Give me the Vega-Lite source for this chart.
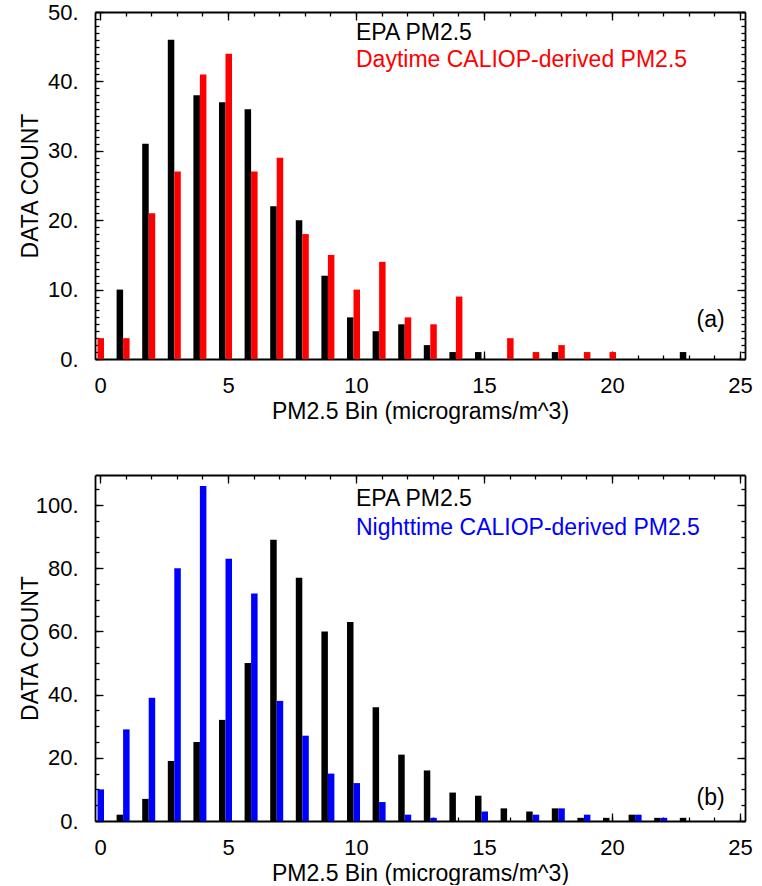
{
  "$schema": "https://vega.github.io/schema/vega-lite/v6.json",
  "background": "white",
  "padding": {"left": 19, "top": 1, "right": 5, "bottom": 0},
  "spacing": 51,
  "config": {
    "view": {"stroke": null},
    "font": "Liberation Sans",
    "axis": {
      "grid": false,
      "domainColor": "black",
      "domainWidth": 1.8,
      "tickColor": "black",
      "tickWidth": 1.3,
      "labelColor": "black",
      "titleColor": "black",
      "labelFont": "Liberation Sans",
      "titleFont": "Liberation Sans",
      "labelFontSize": 22,
      "titleFontSize": 23,
      "titleFontWeight": "normal",
      "labelFlush": false,
      "labelOverlap": false
    }
  },
  "datasets": {
    "day": [
      {"bin": 0, "epa": 0, "caliop": 3},
      {"bin": 1, "epa": 10, "caliop": 3},
      {"bin": 2, "epa": 31, "caliop": 21},
      {"bin": 3, "epa": 46, "caliop": 27},
      {"bin": 4, "epa": 38, "caliop": 41},
      {"bin": 5, "epa": 37, "caliop": 44},
      {"bin": 6, "epa": 36, "caliop": 27},
      {"bin": 7, "epa": 22, "caliop": 29},
      {"bin": 8, "epa": 20, "caliop": 18},
      {"bin": 9, "epa": 12, "caliop": 15},
      {"bin": 10, "epa": 6, "caliop": 10},
      {"bin": 11, "epa": 4, "caliop": 14},
      {"bin": 12, "epa": 5, "caliop": 6},
      {"bin": 13, "epa": 2, "caliop": 5},
      {"bin": 14, "epa": 1, "caliop": 9},
      {"bin": 15, "epa": 1, "caliop": 0},
      {"bin": 16, "epa": 0, "caliop": 3},
      {"bin": 17, "epa": 0, "caliop": 1},
      {"bin": 18, "epa": 1, "caliop": 2},
      {"bin": 19, "epa": 0, "caliop": 1},
      {"bin": 20, "epa": 0, "caliop": 1},
      {"bin": 21, "epa": 0, "caliop": 0},
      {"bin": 22, "epa": 0, "caliop": 0},
      {"bin": 23, "epa": 1, "caliop": 0}
    ],
    "night": [
      {"bin": 0, "epa": 0, "caliop": 10},
      {"bin": 1, "epa": 2, "caliop": 29},
      {"bin": 2, "epa": 7, "caliop": 39},
      {"bin": 3, "epa": 19, "caliop": 80},
      {"bin": 4, "epa": 25, "caliop": 106},
      {"bin": 5, "epa": 32, "caliop": 83},
      {"bin": 6, "epa": 50, "caliop": 72},
      {"bin": 7, "epa": 89, "caliop": 38},
      {"bin": 8, "epa": 77, "caliop": 27},
      {"bin": 9, "epa": 60, "caliop": 15},
      {"bin": 10, "epa": 63, "caliop": 12},
      {"bin": 11, "epa": 36, "caliop": 6},
      {"bin": 12, "epa": 21, "caliop": 2},
      {"bin": 13, "epa": 16, "caliop": 1},
      {"bin": 14, "epa": 9, "caliop": 0},
      {"bin": 15, "epa": 8, "caliop": 3},
      {"bin": 16, "epa": 4, "caliop": 0},
      {"bin": 17, "epa": 3, "caliop": 2},
      {"bin": 18, "epa": 4, "caliop": 4},
      {"bin": 19, "epa": 1, "caliop": 2},
      {"bin": 20, "epa": 1, "caliop": 0},
      {"bin": 21, "epa": 2, "caliop": 2},
      {"bin": 22, "epa": 1, "caliop": 1},
      {"bin": 23, "epa": 1, "caliop": 0}
    ],
    "one": [{}]
  },
  "vconcat": [
    {
      "width": 650,
      "height": 347,
      "data": {"name": "day"},
      "resolve": {"axis": {"x": "independent", "y": "independent"}},
      "layer": [
        {
          "mark": {"type": "bar", "color": "black", "width": 6.5, "xOffset": -5.75, "orient": "vertical", "clip": true},
          "encoding": {
            "x": {"field": "bin", "type": "quantitative", "scale": {"domain": [0, 25], "nice": false, "zero": false},
                  "axis": {"orient": "bottom", "values": [0, 5, 10, 15, 20, 25], "ticks": false, "labelBaseline": "alphabetic", "labelPadding": 33,
                           "title": "PM2.5 Bin (micrograms/m^3)", "titleBaseline": "alphabetic", "titleY": 59}},
            "y": {"field": "epa", "type": "quantitative", "stack": null, "scale": {"domain": [0, 50], "nice": false},
                  "axis": {"orient": "left", "values": [0, 10, 20, 30, 40, 50], "ticks": false, "labelPadding": 17, "labelExpr": "datum.label + '.'",
                           "title": "DATA COUNT", "titleBaseline": "alphabetic", "titleX": -58}}
          }
        },
        {
          "mark": {"type": "bar", "color": "#ff0000", "width": 6.5, "xOffset": 0.75, "orient": "vertical", "clip": true},
          "encoding": {
            "x": {"field": "bin", "type": "quantitative",
                  "axis": {"orient": "bottom", "values": [0, 5, 10, 15, 20, 25], "tickSize": -8, "labels": false, "domain": false, "title": null}},
            "y": {"field": "caliop", "type": "quantitative", "stack": null,
                  "axis": {"orient": "left", "values": [0, 10, 20, 30, 40, 50], "tickSize": -8, "labels": false, "domain": false, "title": null}}
          }
        },
        {
          "data": {"name": "one"},
          "mark": {"type": "text", "align": "left", "baseline": "alphabetic", "fontSize": 23, "color": "black", "font": "Liberation Sans"},
          "encoding": {
            "x": {"datum": 10, "type": "quantitative",
                  "axis": {"orient": "bottom", "values": [0,1,2,3,4,5,6,7,8,9,10,11,12,13,14,15,16,17,18,19,20,21,22,23,24,25], "tickSize": -4, "labels": false, "domain": false, "title": null}},
            "y": {"datum": 46, "type": "quantitative",
                  "axis": {"orient": "left", "values": [0,1,2,3,4,5,6,7,8,9,10,11,12,13,14,15,16,17,18,19,20,21,22,23,24,25,26,27,28,29,30,31,32,33,34,35,36,37,38,39,40,41,42,43,44,45,46,47,48,49,50], "tickSize": -4, "labels": false, "domain": false, "title": null}},
            "text": {"value": "EPA PM2.5"}
          }
        },
        {
          "data": {"name": "one"},
          "mark": {"type": "text", "align": "left", "baseline": "alphabetic", "fontSize": 23, "color": "#ff0000", "font": "Liberation Sans"},
          "encoding": {
            "x": {"datum": 10, "type": "quantitative",
                  "axis": {"orient": "top", "values": [0, 5, 10, 15, 20, 25], "tickSize": -8, "labels": false, "domain": true, "title": null}},
            "y": {"datum": 42.1, "type": "quantitative",
                  "axis": {"orient": "right", "values": [0, 10, 20, 30, 40, 50], "tickSize": -8, "labels": false, "domain": true, "title": null}},
            "text": {"value": "Daytime CALIOP-derived PM2.5"}
          }
        },
        {
          "data": {"name": "one"},
          "mark": {"type": "text", "align": "right", "baseline": "alphabetic", "fontSize": 23, "color": "black", "font": "Liberation Sans"},
          "encoding": {
            "x": {"datum": 24.4, "type": "quantitative",
                  "axis": {"orient": "top", "values": [0,1,2,3,4,5,6,7,8,9,10,11,12,13,14,15,16,17,18,19,20,21,22,23,24,25], "tickSize": -4, "labels": false, "domain": false, "title": null}},
            "y": {"datum": 4.6, "type": "quantitative",
                  "axis": {"orient": "right", "values": [0,1,2,3,4,5,6,7,8,9,10,11,12,13,14,15,16,17,18,19,20,21,22,23,24,25,26,27,28,29,30,31,32,33,34,35,36,37,38,39,40,41,42,43,44,45,46,47,48,49,50], "tickSize": -4, "labels": false, "domain": false, "title": null}},
            "text": {"value": "(a)"}
          }
        }
      ]
    },
    {
      "width": 650,
      "height": 346,
      "data": {"name": "night"},
      "resolve": {"axis": {"x": "independent", "y": "independent"}},
      "layer": [
        {
          "mark": {"type": "bar", "color": "black", "width": 6.5, "xOffset": -5.75, "orient": "vertical", "clip": true},
          "encoding": {
            "x": {"field": "bin", "type": "quantitative", "scale": {"domain": [0, 25], "nice": false, "zero": false},
                  "axis": {"orient": "bottom", "values": [0, 5, 10, 15, 20, 25], "ticks": false, "labelBaseline": "alphabetic", "labelPadding": 33,
                           "title": "PM2.5 Bin (micrograms/m^3)", "titleBaseline": "alphabetic", "titleY": 59}},
            "y": {"field": "epa", "type": "quantitative", "stack": null, "scale": {"domain": [0, 109.5], "nice": false},
                  "axis": {"orient": "left", "values": [0, 20, 40, 60, 80, 100], "ticks": false, "labelPadding": 17, "labelExpr": "datum.label + '.'",
                           "title": "DATA COUNT", "titleBaseline": "alphabetic", "titleX": -58}}
          }
        },
        {
          "mark": {"type": "bar", "color": "#0000ff", "width": 6.5, "xOffset": 0.75, "orient": "vertical", "clip": true},
          "encoding": {
            "x": {"field": "bin", "type": "quantitative",
                  "axis": {"orient": "bottom", "values": [0, 5, 10, 15, 20, 25], "tickSize": -8, "labels": false, "domain": false, "title": null}},
            "y": {"field": "caliop", "type": "quantitative", "stack": null,
                  "axis": {"orient": "left", "values": [0, 20, 40, 60, 80, 100], "tickSize": -8, "labels": false, "domain": false, "title": null}}
          }
        },
        {
          "data": {"name": "one"},
          "mark": {"type": "text", "align": "left", "baseline": "alphabetic", "fontSize": 23, "color": "black", "font": "Liberation Sans"},
          "encoding": {
            "x": {"datum": 10, "type": "quantitative",
                  "axis": {"orient": "bottom", "values": [0,1,2,3,4,5,6,7,8,9,10,11,12,13,14,15,16,17,18,19,20,21,22,23,24,25], "tickSize": -4, "labels": false, "domain": false, "title": null}},
            "y": {"datum": 99.7, "type": "quantitative",
                  "axis": {"orient": "left", "values": [0,5,10,15,20,25,30,35,40,45,50,55,60,65,70,75,80,85,90,95,100,105], "tickSize": -4, "labels": false, "domain": false, "title": null}},
            "text": {"value": "EPA PM2.5"}
          }
        },
        {
          "data": {"name": "one"},
          "mark": {"type": "text", "align": "left", "baseline": "alphabetic", "fontSize": 23, "color": "#0000ff", "font": "Liberation Sans"},
          "encoding": {
            "x": {"datum": 10, "type": "quantitative",
                  "axis": {"orient": "top", "values": [0, 5, 10, 15, 20, 25], "tickSize": -8, "labels": false, "domain": true, "title": null}},
            "y": {"datum": 90.5, "type": "quantitative",
                  "axis": {"orient": "right", "values": [0, 20, 40, 60, 80, 100], "tickSize": -8, "labels": false, "domain": true, "title": null}},
            "text": {"value": "Nighttime CALIOP-derived PM2.5"}
          }
        },
        {
          "data": {"name": "one"},
          "mark": {"type": "text", "align": "right", "baseline": "alphabetic", "fontSize": 23, "color": "black", "font": "Liberation Sans"},
          "encoding": {
            "x": {"datum": 24.4, "type": "quantitative",
                  "axis": {"orient": "top", "values": [0,1,2,3,4,5,6,7,8,9,10,11,12,13,14,15,16,17,18,19,20,21,22,23,24,25], "tickSize": -4, "labels": false, "domain": false, "title": null}},
            "y": {"datum": 5.0, "type": "quantitative",
                  "axis": {"orient": "right", "values": [0,5,10,15,20,25,30,35,40,45,50,55,60,65,70,75,80,85,90,95,100,105], "tickSize": -4, "labels": false, "domain": false, "title": null}},
            "text": {"value": "(b)"}
          }
        }
      ]
    }
  ]
}
